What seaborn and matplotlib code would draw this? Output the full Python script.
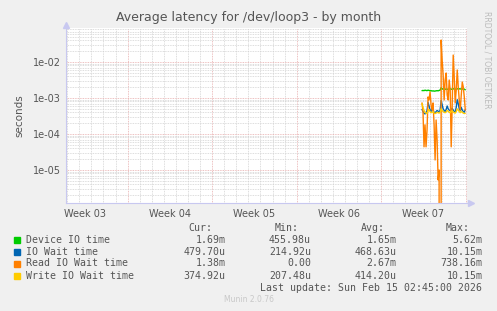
import numpy as np
import pandas as pd
import matplotlib
matplotlib.use("Agg")
import matplotlib.pyplot as plt
import matplotlib.ticker as mticker
import matplotlib.transforms as mtrans
import seaborn as sns

sns.set_theme(style="white")
plt.rcParams['font.family'] = ['DejaVu Sans']

# ---------------- data ----------------
# time axis: days since Sunday 2026-01-11, 2-hour samples
t_start = 31.375
t_step_hours = 2
week_labels = ["Week 03", "Week 04", "Week 05", "Week 06", "Week 07"]
week_bounds = [7, 14, 21, 28, 35]

device_io = [1.60, 1.62, 1.60, 1.65, 1.62, 1.60, 1.65, 1.62, 1.58, 1.60,
             1.56, 1.58, 1.55, 1.56, 1.58, 1.60, 1.58, 1.62, 1.65, 1.93,
             1.80, 1.75, 1.72, 1.75, 1.78, 1.75, 1.76, 1.78, 1.80, 1.76,
             1.75, 1.80, 1.78, 1.76, 1.78, 1.80, 1.78, 1.80, 1.78, 1.80,
             1.78, 1.78, 1.76, 1.69]
io_wait = [4.8, 4.2, 3.8, 3.6, 3.9, 4.5, 7.5, 6.0, 4.6, 4.2,
           5.5, 4.6, 4.0, 3.8, 4.2, 4.5, 4.3, 4.0, 4.6, 8.5,
           6.5, 5.0, 4.5, 4.2, 4.8, 6.0, 5.0, 4.6, 4.4, 4.8,
           5.2, 4.6, 4.2, 4.0, 5.5, 9.0, 7.0, 5.0, 4.4, 5.5,
           4.6, 4.2, 4.0, 4.8]
read_io_wait = [7.3e-4, 4.1e-4, 4.4e-5, 1.8e-4, 4.4e-5, 1.3e-4, 1.07e-3, 8.8e-4, 1.47e-3, 6.4e-4,
                4.6e-4, 7.3e-4, 1.8e-4, 1.9e-5, 2.45e-4, 6.8e-5, 5.3e-6, 1.0e-5, 0.0, 4.08e-2,
                1.14e-2, 4.35e-3, 8.8e-4, 3.16e-3, 4.95e-3, 1.21e-3, 8.8e-4, 3.16e-3, 1.67e-3, 4.4e-5,
                6.4e-4, 1.56e-2, 3.83e-3, 7.3e-4, 1.67e-3, 6.0e-3, 2.02e-3, 8.8e-4, 4.6e-4, 1.21e-3,
                2.78e-3, 2.02e-3, 1.07e-3, 4.6e-4]
write_io_wait = [7.0, 5.5, 4.5, 4.0, 3.8, 3.7, 4.5, 4.8, 4.2, 3.9,
                 4.0, 4.2, 3.8, 3.7, 3.8, 4.0, 3.9, 3.8, 4.0, 5.0,
                 4.5, 4.2, 4.0, 3.9, 4.1, 4.5, 4.3, 4.0, 3.9, 4.2,
                 4.4, 4.1, 3.9, 3.8, 4.2, 5.0, 4.6, 4.2, 3.9, 4.3,
                 4.0, 3.8, 3.7, 3.75]

series_names = ["Device IO time", "IO Wait time", "Read IO Wait time", "Write IO Wait time"]
series_colors = ["#00CC00", "#0066B3", "#FF8000", "#FFCC00"]
cur_vals = ["1.69m", "479.70u", "1.38m", "374.92u"]
min_vals = ["455.98u", "214.92u", "0.00", "207.48u"]
avg_vals = ["1.65m", "468.63u", "2.67m", "414.20u"]
max_vals = ["5.62m", "10.15m", "738.16m", "10.15m"]

n = len(device_io)
t = t_start + np.arange(n) * t_step_hours / 24.0
df = pd.DataFrame({
    "t": np.tile(t, 4),
    "value": np.concatenate([np.array(device_io) * 1e-3, np.array(io_wait) * 1e-4,
                             np.array(read_io_wait), np.array(write_io_wait) * 1e-4]),
    "series": np.repeat(series_names, n),
})

# ---------------- figure ----------------
W, H = 497, 311
fig = plt.figure(figsize=(W / 100, H / 100), dpi=100, facecolor="#F0F0F0")
ax = fig.add_axes([66 / W, 1 - 203 / H, (467 - 66) / W, (203 - 28) / H])
ax.set_facecolor("white")
ax.set_yscale("log", nonpositive="clip")
ax.set_xlim(1.9, 35.1)
ax.set_ylim(1.21e-6, 0.088)

# grid
minor_c = "#D2D2D2"
major_c = "#E8ACAC"
dots = (0, (1, 1))
ax.xaxis.set_major_locator(mticker.FixedLocator(week_bounds))
ax.xaxis.set_minor_locator(mticker.MultipleLocator(1))
ax.yaxis.set_major_locator(mticker.LogLocator(base=10, numticks=20))
ax.yaxis.set_minor_locator(mticker.LogLocator(base=10, subs=np.arange(2, 10), numticks=20))
ax.grid(which="minor", color=minor_c, linestyle=dots, linewidth=0.6)
ax.grid(which="major", color=major_c, linestyle=dots, linewidth=0.6)
ax.set_axisbelow(True)

sns.lineplot(data=df, x="t", y="value", hue="series", palette=series_colors,
             hue_order=series_names, ax=ax, legend=False, linewidth=1.0,
             estimator=None, sort=False)

ax.set_xlabel("")
ax.set_ylabel("seconds", fontsize=7.5, color="#555555", labelpad=6)
ax.yaxis.set_major_formatter(mticker.FuncFormatter(lambda v, p: f"{v:.0e}"))
ax.xaxis.set_major_formatter(mticker.NullFormatter())
ax.tick_params(axis="y", which="major", labelsize=7, labelcolor="#555555",
               color=major_c, length=3, width=0.6, direction="inout", pad=2)
ax.tick_params(axis="y", which="minor", color="#BBBBBB", length=2, width=0.6, direction="inout")
ax.tick_params(axis="x", which="major", color=major_c, length=3, width=0.6, direction="inout")
ax.tick_params(axis="x", which="minor", color="#BBBBBB", length=2, width=0.6, direction="inout")

for s in ["top", "right"]:
    ax.spines[s].set_visible(False)
for s in ["left", "bottom"]:
    ax.spines[s].set_color("#C8C8F0")
    ax.spines[s].set_linewidth(0.8)
# axis arrows
ax.plot([0], [1.02], marker="^", color="#C8C8F0", markersize=4, transform=ax.transAxes, clip_on=False)
ax.plot([1.01], [0], marker=">", color="#C8C8F0", markersize=4, transform=ax.transAxes, clip_on=False)

# week labels centered between week boundaries
trans = mtrans.blended_transform_factory(ax.transData, ax.transAxes)
for lbl, b in zip(week_labels, week_bounds):
    ax.text(b - 3.5, -0.035, lbl, transform=trans, ha="center", va="top",
            fontsize=7, color="#555555")

# title and side texts
fig.text(248.5 / W, 1 - 18 / H, "Average latency for /dev/loop3 - by month",
         ha="center", va="center", fontsize=9, color="#555555")
fig.text(487 / W, 1 - 60 / H, "RRDTOOL / TOBI OETIKER", rotation=270,
         ha="center", va="center", fontsize=5.5, color="#BBBBBB")
fig.text(248.5 / W, 1 - 300 / H, "Munin 2.0.76", ha="center", va="center",
         fontsize=5.5, color="#C8C8C8")

# legend table
mono = dict(family="DejaVu Sans Mono", fontsize=7.1, color="#555555")
hy = 227.7
fig.text(212.7 / W, 1 - hy / H, "Cur:", ha="right", va="center", **mono)
fig.text(299 / W, 1 - hy / H, "Min:", ha="right", va="center", **mono)
fig.text(384.5 / W, 1 - hy / H, "Avg:", ha="right", va="center", **mono)
fig.text(470 / W, 1 - hy / H, "Max:", ha="right", va="center", **mono)
rows_y = [239.7, 251.7, 263.5, 275.7]
for name, col, c, mn, av, mx, ry in zip(series_names, series_colors, cur_vals,
                                        min_vals, avg_vals, max_vals, rows_y):
    fig.patches.append(plt.Rectangle((14 / W, 1 - (ry + 3) / H), 6 / W, 6 / H,
                                     transform=fig.transFigure, color=col))
    fig.text(26 / W, 1 - ry / H, name, ha="left", va="center", **mono)
    fig.text(225.7 / W, 1 - ry / H, c, ha="right", va="center", **mono)
    fig.text(311 / W, 1 - ry / H, mn, ha="right", va="center", **mono)
    fig.text(396.7 / W, 1 - ry / H, av, ha="right", va="center", **mono)
    fig.text(482.3 / W, 1 - ry / H, mx, ha="right", va="center", **mono)
fig.text(482.3 / W, 1 - 287.7 / H, "Last update: Sun Feb 15 02:45:00 2026",
         ha="right", va="center", **mono)

fig.savefig("out.png", dpi=100, facecolor=fig.get_facecolor())
